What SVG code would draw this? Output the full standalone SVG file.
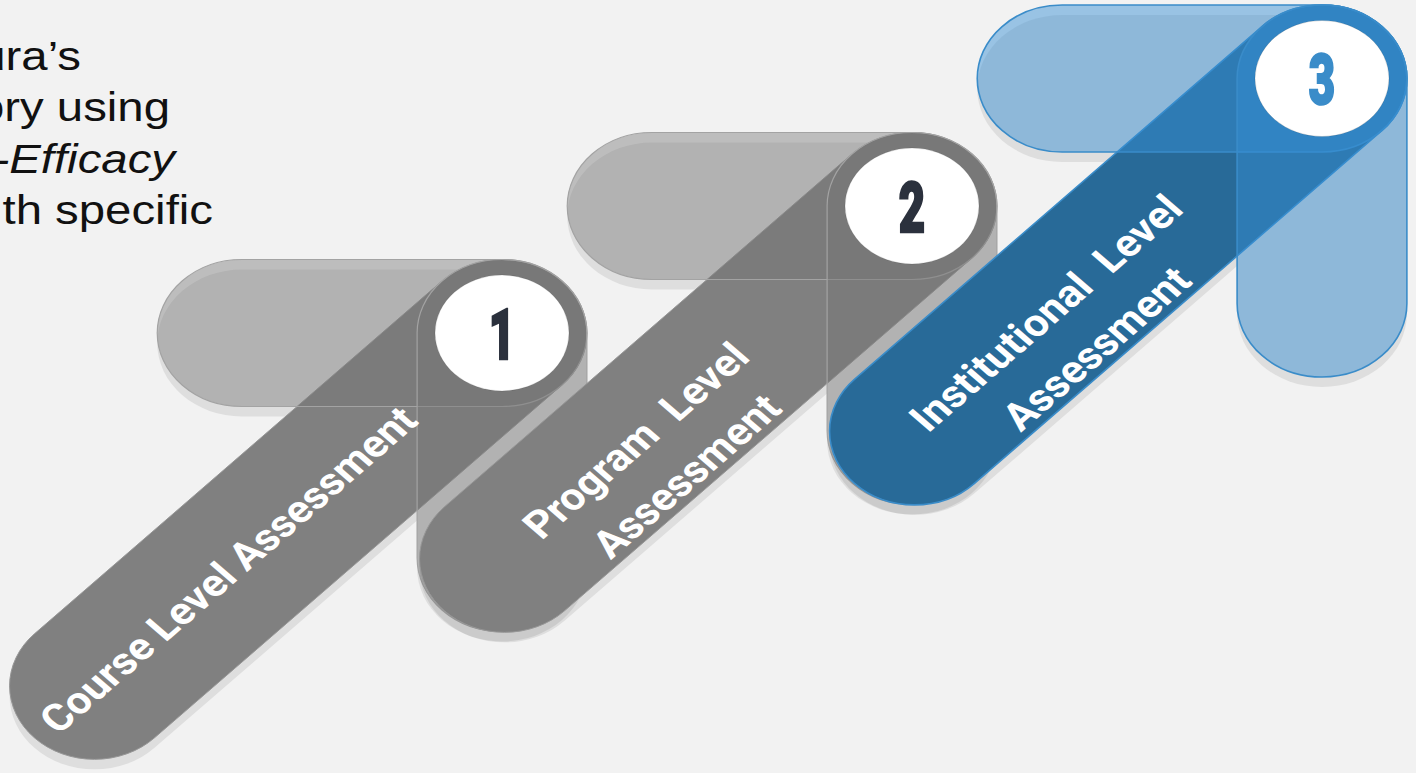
<svg xmlns="http://www.w3.org/2000/svg" xmlns:xlink="http://www.w3.org/1999/xlink" width="1416" height="773" viewBox="0 0 1416 773">
<defs>
<style>
.intro{font-family:"Liberation Sans",Arial,Helvetica,sans-serif;font-size:41px;fill:#111}
.shadow{opacity:0.08}
.gdiag{fill:#808080;stroke:#979797;stroke-width:1}
.glight{fill:#747474;fill-opacity:0.42;stroke:#A3A3A3;stroke-width:1.2}
.bdiag{fill:#286A98;stroke:#3A8CC9;stroke-width:1.6}
.blight{fill:#358ED5;fill-opacity:0.47;stroke:#3A8CC9;stroke-width:1.6}
.disc{fill:#FFFFFF;stroke:#000;stroke-opacity:0.12;stroke-width:1}
.num{font-family:Roboto,"Liberation Sans",sans-serif;font-weight:900;font-size:71px;text-anchor:middle;stroke-width:2.5}
.lbl{font-family:Roboto,"Open Sans","Liberation Sans",sans-serif;font-weight:700;font-size:38px;fill:#FFFFFF;text-anchor:middle}
</style>
<rect id="hp" x="-298.5" y="-73.5" width="372" height="147" rx="73.5" vector-effect="non-scaling-stroke"/>
<rect id="vp" x="-73.5" y="-73.5" width="147" height="372" rx="73.5" vector-effect="non-scaling-stroke"/>
<rect id="dp" x="-572.5" y="-73.5" width="646" height="147" rx="73.5" transform="rotate(-45)" vector-effect="non-scaling-stroke"/>
</defs>
<rect width="1416" height="773" fill="#F2F2F2"/>

<g id="intro-text" class="intro" transform="scale(1.155,1)" text-anchor="end">
<text x="70.1" y="70">ura’s</text>
<text x="147.2" y="121.5">ory using</text>
<text x="151.5" y="173" font-style="italic">-Efficacy</text>
<text x="184.4" y="224.5">th specific</text>
</g>

<g id="node1">
<g transform="translate(502,333) scale(1.155,1)">
<g class="shadow" transform="translate(0,10)"><use xlink:href="#dp"/><use xlink:href="#hp"/><use xlink:href="#vp"/></g>
<use xlink:href="#dp" class="gdiag"/>
<use xlink:href="#hp" class="glight"/>
<use xlink:href="#vp" class="glight"/>
<ellipse rx="58" ry="58" class="disc" vector-effect="non-scaling-stroke"/>
<g transform="rotate(-45)"><text class="lbl" x="-335" y="13">Course Level Assessment</text></g>
</g>
<text class="num" transform="translate(502,333) scale(0.64,1)" y="25.5" fill="#2B313D" stroke="#2B313D">1</text>
</g>

<g id="node2">
<g transform="translate(912,206) scale(1.155,1)">
<g class="shadow" transform="translate(0,10)"><use xlink:href="#dp"/><use xlink:href="#hp"/><use xlink:href="#vp"/></g>
<use xlink:href="#dp" class="gdiag"/>
<use xlink:href="#hp" class="glight"/>
<use xlink:href="#vp" class="glight"/>
<ellipse rx="58" ry="58" class="disc" vector-effect="non-scaling-stroke"/>
<g transform="rotate(-45)">
<text class="lbl" x="-335" y="10" word-spacing="10">Program Level</text>
<text class="lbl" x="-329" y="66">Assessment</text>
</g>
</g>
<text class="num" transform="translate(912,206) scale(0.64,1)" y="25.5" fill="#2B313D" stroke="#2B313D">2</text>
</g>

<g id="node3">
<g transform="translate(1322,78.5) scale(1.155,1)">
<g class="shadow" transform="translate(0,10)"><use xlink:href="#dp"/><use xlink:href="#hp"/><use xlink:href="#vp"/></g>
<use xlink:href="#dp" class="bdiag"/>
<use xlink:href="#hp" class="blight"/>
<use xlink:href="#vp" class="blight"/>
<ellipse rx="58" ry="58" class="disc" vector-effect="non-scaling-stroke"/>
<g transform="rotate(-45)">
<text class="lbl" x="-335" y="10" word-spacing="10">Institutional Level</text>
<text class="lbl" x="-329" y="66">Assessment</text>
</g>
</g>
<text class="num" transform="translate(1322,78.5) scale(0.64,1)" y="25.5" fill="#3A8CC9" stroke="#3A8CC9">3</text>
</g>

<g id="connectors"></g>
</svg>
